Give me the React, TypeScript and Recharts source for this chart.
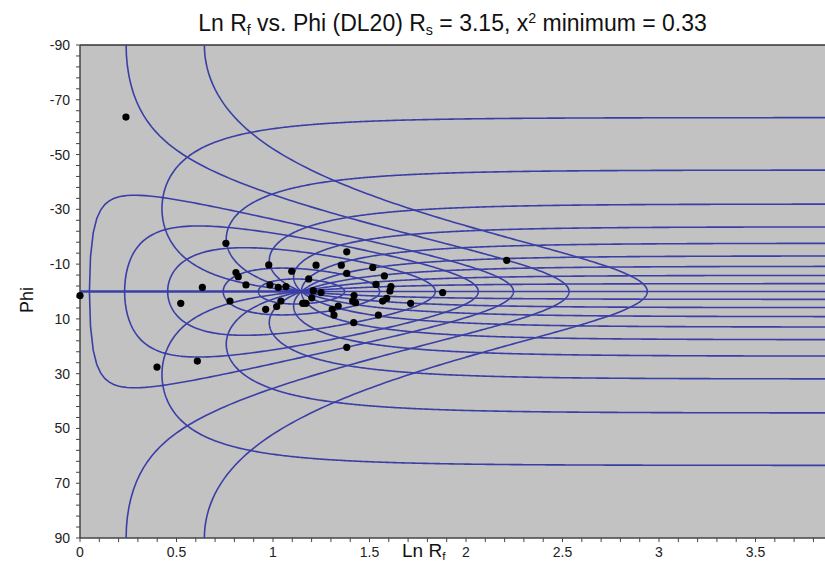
import { ScatterChart, Scatter, XAxis, YAxis, CartesianGrid, ReferenceLine } from "recharts"

// measured fabrics: ln Rf and phi (deg) for each marker
const lnRf = [
  0, 0.238, 0.399, 0.608, 0.522, 0.634, 0.756, 0.777, 0.808, 0.82, 0.86, 0.978, 0.984, 1.027, 1.067, 1.097,
  1.041, 1.019, 0.962, 1.154, 1.171, 1.201, 1.209, 1.249, 1.185, 1.223, 1.354, 1.382, 1.382, 1.517, 1.577, 1.534,
  1.611, 1.606, 1.42, 1.413, 1.428, 1.338, 1.307, 1.316, 1.418, 1.546, 1.568, 1.589, 1.713, 1.879, 2.211, 1.382,
]
const phi = [
  1.5, -63.7, 27.6, 25.4, 4.3, -1.5, -17.6, 3.5, -6.9, -5.4, -2.4, -9.7, -2.4, -1.5, -1.8, -7.4,
  3.5, 5.5, 6.5, 4.3, 4.3, 2.3, -0.3, 0.4, -4.6, -9.6, -9.6, -14.5, -6.6, -8.8, -5.7, -2.6,
  -1.8, -0.2, 1.5, 3.5, 4.1, 5.3, 6.5, 8.6, 11.4, 8.6, 3.5, 2.5, 4.3, 0.4, -11.4, 20.4,
]

// reference grid: strain ratio, initial axial ratios and initial orientations
const RS = 3.15
const riValues = [1.25, 1.5, 2, 2.5, 3, 4, 6]
const thetaValues = [-81, -72, -63, -54, -45, -36, -27, -18, -9, 0, 9, 18, 27, 36, 45, 54, 63, 72, 81, 90]

const xLabels = [0, 0.5, 1, 1.5, 2, 2.5, 3, 3.5]
const yLabels = [-90, -70, -50, -30, -10, 10, 30, 50, 70, 90]

const X_MAX = 3.86
const BLUE = "#3a3fa6"
const FONT = '"Liberation Sans", Arial, sans-serif'

// ellipse of ratio ri with long axis at theta, stretched by RS along x
function strain(ri: number, thetaDeg: number) {
  const t = (thetaDeg * Math.PI) / 180
  const c = Math.cos(t)
  const s = Math.sin(t)
  const a11 = ri * c * c + (s * s) / ri
  const a22 = ri * s * s + (c * c) / ri
  const a12 = (ri - 1 / ri) * c * s
  const b11 = RS * a11
  const b22 = a22 / RS
  const tr = b11 + b22
  const rf = (tr + Math.sqrt(Math.max(tr * tr - 4, 0))) / 2
  const ang = (0.5 * Math.atan2(2 * a12, b11 - b22) * 180) / Math.PI
  return { x: Math.log(rf), y: ang }
}

// constant Ri curves (loops below RS, open above)
const riCurves = riValues.map((ri) => {
  const pts = []
  for (let th = -90; th <= 90.0001; th += 0.5) pts.push(strain(ri, th))
  return pts
})

// constant theta curves, Ri growing from 1
const thetaCurves = thetaValues.map((th) => {
  const maxLn = th === 90 ? Math.log(RS) - 1e-4 : 5.5
  const n = 600
  const pts = []
  for (let i = 0; i <= n; i++) {
    const p = strain(Math.exp((maxLn * i) / n), th)
    pts.push(p)
    if (p.x > X_MAX + 0.05) break
  }
  return pts
})

const points = lnRf.map((x, i) => ({ x, y: phi[i] }))

const xTicks: number[] = []
for (let i = 0; i <= 38; i++) xTicks.push(i / 10)
const yTicks: number[] = []
for (let v = -90; v <= 90; v += 4) yTicks.push(v)

const XTick = (props: any) => {
  const { x, y, payload } = props
  const v = payload.value
  if (!xLabels.some((l) => Math.abs(l - v) < 1e-6)) return <g />
  return (
    <text x={x} y={y} dy={13} textAnchor="middle" fontSize={14} fontFamily={FONT} fill="#222">
      {v}
    </text>
  )
}

const YTick = (props: any) => {
  const { x, y, payload } = props
  const v = payload.value
  if (!yLabels.includes(v)) return <g />
  return (
    <text x={x - 4} y={y} dy={5} textAnchor="end" fontSize={14} fontFamily={FONT} fill="#222">
      {v}
    </text>
  )
}

const Sub = ({ children }: { children: string }) => (
  <span style={{ fontSize: "0.62em", verticalAlign: "-0.28em", lineHeight: 0 }}>{children}</span>
)
const Sup = ({ children }: { children: string }) => (
  <span style={{ fontSize: "0.62em", verticalAlign: "0.55em", lineHeight: 0 }}>{children}</span>
)

const noDot = () => <g />
const dot = (p: any) => <circle cx={p.cx} cy={p.cy} r={3.6} fill="#000" />

export default function App() {
  return (
    <div style={{ position: "absolute", left: 0, top: 0, width: 825, height: 567, background: "#fff", overflow: "hidden" }}>
      <div
        style={{
          position: "absolute",
          left: 80,
          width: 745,
          top: 10,
          lineHeight: "26px",
          textAlign: "center",
          fontFamily: FONT,
          fontSize: 23,
          color: "#111",
        }}
      >
        Ln R<Sub>f</Sub> vs. Phi (DL20) R<Sub>s</Sub> = 3.15, x<Sup>2</Sup> minimum = 0.33
      </div>
      <ScatterChart width={825} height={567} margin={{ top: 45, right: 0, bottom: 0, left: 0 }}>
        <CartesianGrid fill="#c2c2c2" horizontal={false} vertical={false} />
        <XAxis
          type="number"
          dataKey="x"
          domain={[0, X_MAX]}
          allowDataOverflow
          ticks={xTicks}
          interval={0}
          tick={<XTick />}
          tickSize={4}
          tickLine={{ stroke: "#444" }}
          axisLine={{ stroke: "#444", strokeWidth: 1.5 }}
          height={29}
        />
        <XAxis xAxisId="pts" type="number" dataKey="x" domain={[0, X_MAX]} hide />
        <YAxis
          type="number"
          dataKey="y"
          domain={[-90, 90]}
          reversed
          ticks={yTicks}
          interval={0}
          tick={<YTick />}
          tickSize={4}
          tickLine={{ stroke: "#444" }}
          axisLine={{ stroke: "#444", strokeWidth: 1.5 }}
          width={80}
        />
        <ReferenceLine y={-90} stroke="#333" strokeWidth={1.5} />
        {riCurves.map((pts, i) => (
          <Scatter
            key={"ri" + i}
            data={pts}
            line={{ stroke: BLUE, strokeWidth: 1.6 }}
            lineType="joint"
            shape={noDot}
            isAnimationActive={false}
          />
        ))}
        {thetaCurves.map((pts, i) => (
          <Scatter
            key={"th" + i}
            data={pts}
            line={{ stroke: BLUE, strokeWidth: thetaValues[i] === 90 ? 2.4 : 1.6 }}
            lineType="joint"
            shape={noDot}
            isAnimationActive={false}
          />
        ))}
        <Scatter xAxisId="pts" data={points} shape={dot} isAnimationActive={false} />
      </ScatterChart>
      <div
        style={{
          position: "absolute",
          left: 4,
          top: 300,
          width: 46,
          transform: "translate(0, -50%) rotate(-90deg)",
          textAlign: "center",
          fontFamily: FONT,
          fontSize: 18,
          color: "#111",
          lineHeight: "20px",
        }}
      >
        Phi
      </div>
      <div
        style={{
          position: "absolute",
          left: 402,
          top: 540,
          fontFamily: FONT,
          fontSize: 19,
          color: "#111",
          lineHeight: "22px",
        }}
      >
        Ln R<Sub>f</Sub>
      </div>
    </div>
  )
}
